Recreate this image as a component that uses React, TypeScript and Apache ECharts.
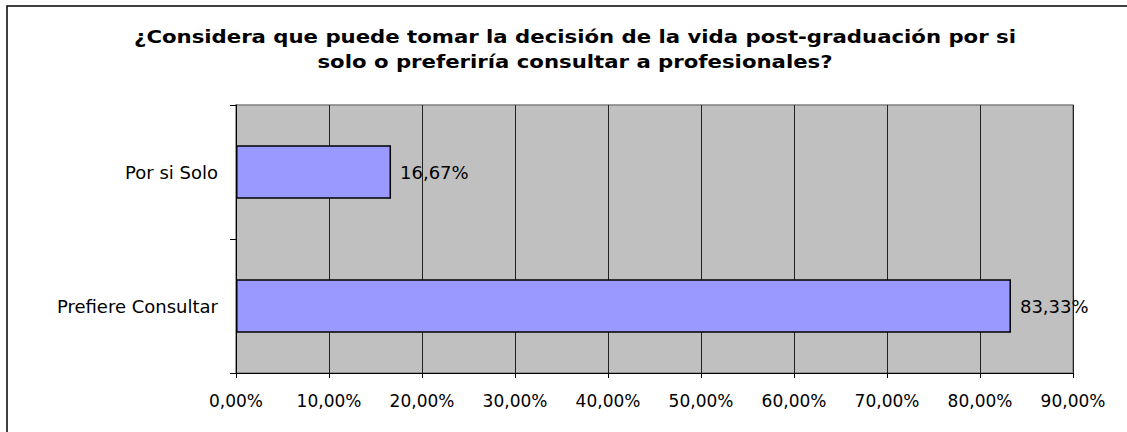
import React, { useEffect, useRef } from "react";
import * as echarts from "echarts";

const titleLines = [
  "¿Considera que puede tomar la decisión de la vida post-graduación por si",
  "solo o preferiría consultar a profesionales?",
];
const categories = ["Prefiere Consultar", "Por si Solo"];
const values = [83.33, 16.67];
const axisMax = 90;
const axisStep = 10;

const fmt = (v: number) => v.toFixed(2).replace(".", ",") + "%";

export default function App() {
  const ref = useRef<HTMLDivElement>(null);
  useEffect(() => {
    if (!ref.current) return;
    const chart = echarts.init(ref.current, null, { renderer: "svg" });
    const font = "'DejaVu Sans', Verdana, sans-serif";
    chart.setOption({
      animation: false,
      backgroundColor: "#ffffff",
      graphic: [
        {
          type: "text",
          x: 575,
          y: 25,
          scaleX: 1.18,
          style: {
            text: titleLines.join("\n"),
            fontFamily: font,
            fontWeight: "bold",
            fontSize: 18,
            lineHeight: 25,
            fill: "#000",
            align: "center",
            verticalAlign: "top",
          },
        },
        {
          type: "rect",
          shape: { x: 7, y: 6, width: 1140, height: 450 },
          style: { fill: "none", stroke: "#000", lineWidth: 1.5 },
          z: 100,
        },
      ],
      grid: {
        left: 236,
        top: 105,
        right: 54,
        bottom: 59,
        show: true,
        backgroundColor: "#C0C0C0",
        borderColor: "#808080",
        borderWidth: 1.5,
      },
      xAxis: {
        type: "value",
        min: 0,
        max: axisMax,
        interval: axisStep,
        axisLine: { show: true, lineStyle: { color: "#000", width: 1 } },
        axisTick: { show: true, length: 5, lineStyle: { color: "#000" } },
        splitLine: { show: true, lineStyle: { color: "#222", width: 1 } },
        axisLabel: {
          formatter: (v: number) => fmt(v),
          fontFamily: font,
          fontSize: 17,
          color: "#000",
          margin: 19,
        },
      },
      yAxis: {
        type: "category",
        data: categories,
        axisLine: { show: true, lineStyle: { color: "#000", width: 1 } },
        axisTick: { show: true, length: 6, lineStyle: { color: "#000" } },
        axisLabel: {
          fontFamily: font,
          fontSize: 18,
          color: "#000",
          margin: 18,
        },
      },
      series: [
        {
          type: "bar",
          data: values,
          barWidth: "40%",
          itemStyle: { color: "#9999FF", borderColor: "#000", borderWidth: 1.5 },
          label: {
            show: true,
            position: "right",
            distance: 9,
            formatter: (p: any) => fmt(p.value),
            fontFamily: font,
            fontSize: 18,
            color: "#000",
          },
        },
      ],
    });
    return () => chart.dispose();
  }, []);
  return (
    <div
      ref={ref}
      style={{ position: "absolute", left: 0, top: 0, width: 1127, height: 432 }}
    />
  );
}
